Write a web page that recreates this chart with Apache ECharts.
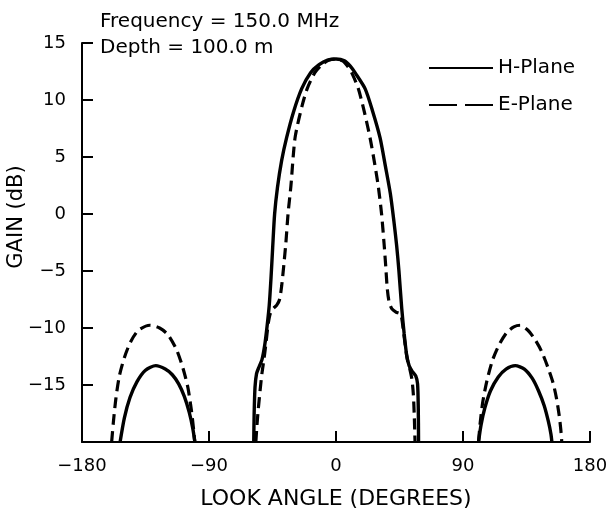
<!DOCTYPE html>
<html>
<head>
<meta charset="utf-8">
<script src="https://cdn.jsdelivr.net/npm/echarts@6/dist/echarts.min.js"></script>
<style>
html,body{margin:0;padding:0;background:#fff;}
#main{width:611px;height:515px;}
</style>
</head>
<body>
<div id="main"></div>
<script>
// H-Plane (solid) lobes: look angle, gain
var hLeftAngle = [-153, -150, -146, -141, -135, -127.7, -121, -116, -111.5, -107.5, -104, -101.5, -100];
var hLeftGain = [-20, -17.9, -16.1, -14.7, -13.7, -13.3, -13.6, -14.1, -14.9, -16, -17.4, -18.8, -20];
var hMainAngle = [-58.3, -58, -57.4, -56.3, -54.5, -52.5, -50.5, -48.8, -47.3, -46, -44.9, -43.5, -41.5, -38.5, -35, -30, -24.3, -18, -12, -6, 0,
	6, 10, 13.5, 20.6, 26, 31.2, 35, 38.5, 41, 43, 44.6, 46.6, 48.3, 50.1, 51.8, 54, 56.5, 57.8, 58.3, 58.5];
var hMainGain = [-20, -17.5, -15.2, -14, -13.4, -12.8, -11.5, -9.8, -8, -5.5, -3, 0, 2.3, 4.7, 6.7, 9, 11, 12.4, 13.1, 13.5, 13.6,
	13.45, 13, 12.4, 11, 9, 6.7, 4.2, 1.8, -0.6, -2.8, -5, -8.3, -10.5, -12.4, -13.3, -13.8, -14.2, -14.9, -17, -20];
var hRightAngle = [101, 102.8, 105.5, 109.5, 115, 120.5, 127, 133.5, 139, 143.5, 147.5, 150.5, 152.3, 153];
var hRightGain = [-20, -18.5, -17, -15.5, -14.3, -13.6, -13.3, -13.6, -14.4, -15.5, -16.8, -18.2, -19.3, -20];

// E-Plane (dashed) lobes
var eLeftAngle = [-159, -157.8, -156, -153.5, -150, -145.5, -140, -132, -125, -119, -113, -108.5, -105, -102.5, -101, -100.1];
var eLeftGain = [-20, -18.3, -16.2, -14.2, -12.6, -11.2, -10.2, -9.76, -10, -10.6, -11.9, -13.5, -15.2, -17.2, -18.8, -20];
var eMainAngle = [-56.8, -56, -55, -53.8, -52.5, -51, -49.6, -48, -46.5, -44.5, -42, -40, -38.5, -37, -35.5, -34, -32, -29, -24, -20.4, -15, -10, -5, 0,
	5, 8, 11.1, 15.8, 20, 24.1, 27.3, 30, 32.3, 34, 35.2, 36.3, 37.6, 39.5, 42.5, 45.9, 48, 50.3, 52.3, 53.8, 54.8, 55.5, 56];
var eMainGain = [-20, -18.5, -17, -15.5, -14, -12.7, -11.3, -9.6, -8.7, -8.3, -8, -7.5, -6.3, -4.5, -2.5, 0, 2.4, 6.7, 9.5, 11, 12.4, 13.1, 13.5, 13.6,
	13.4, 13, 12.4, 11, 9, 6.7, 4.5, 2.4, 0, -2.5, -4.5, -6.5, -7.7, -8.3, -8.6, -8.8, -10.5, -12.6, -13.6, -14.5, -15.8, -17.8, -20];
var eRightAngle = [101, 102.2, 104, 107, 111, 115.5, 121, 126, 130.5, 136, 141, 145.5, 150, 153.8, 156.3, 158.2, 159.3, 160];
var eRightGain = [-20, -18.3, -16.5, -14.6, -12.8, -11.5, -10.4, -9.9, -9.76, -10.2, -11, -12, -13.4, -14.8, -16.2, -17.7, -18.9, -20];

var xTicks = [-180, -90, 0, 90, 180];
var yTicks = [-15, -10, -5, 0, 5, 10, 15];

var FONT = 'DejaVu Sans';

// join lobes, with a gap between them so the line breaks
function lobes(list) {
	var out = [];
	for (var k = 0; k < list.length; k++) {
		if (k > 0) out.push([ (list[k-1][0][list[k-1][0].length-1] + list[k][0][0]) / 2, '-' ]);
		for (var i = 0; i < list[k][0].length; i++) {
			out.push([list[k][0][i], list[k][1][i]]);
		}
	}
	return out;
}
function minus(v) {
	return String(v).replace('-', '\u2212');
}

var chart = echarts.init(document.getElementById('main'));
var option = {
	backgroundColor: '#fff',
	animation: false,
	grid: {
		left: 82,
		right: 21,
		top: 43,
		bottom: 67
	},
	legend: {
		orient: 'vertical',
		left: 423,
		top: 53,
		itemWidth: 64,
		itemHeight: 20,
		itemGap: 17,
		itemStyle: { opacity: 0 },
		textStyle: {
			color: '#000',
			fontFamily: FONT,
			fontSize: 20
		},
		data: [{
			name: 'H-Plane'
		}, {
			name: 'E-Plane',
			lineStyle: { type: [28, 8] }
		}]
	},
	xAxis: {
		type: 'value',
		min: xTicks[0],
		max: xTicks[xTicks.length - 1],
		interval: 90,
		name: 'LOOK ANGLE (DEGREES)',
		nameLocation: 'middle',
		nameGap: 46,
		nameTextStyle: { color: '#000', fontFamily: FONT, fontSize: 22 },
		axisLine: { onZero: false, lineStyle: { color: '#000', width: 2 } },
		axisTick: { inside: true, length: 11, lineStyle: { color: '#000', width: 2 } },
		axisLabel: {
			color: '#000',
			fontFamily: FONT,
			fontSize: 18,
			margin: 15,
			formatter: minus
		},
		splitLine: { show: false }
	},
	yAxis: {
		type: 'value',
		min: -20,
		max: yTicks[yTicks.length - 1],
		interval: 5,
		axisLine: { show: true, onZero: false, lineStyle: { color: '#000', width: 2 } },
		axisTick: { show: true, inside: true, length: 11, lineStyle: { color: '#000', width: 2 } },
		axisLabel: {
			color: '#000',
			fontFamily: FONT,
			fontSize: 18,
			margin: 16,
			showMinLabel: false,
			formatter: minus
		},
		splitLine: { show: false }
	},
	graphic: [{
		type: 'text',
		left: 100,
		top: 12,
		style: { text: 'Frequency = 150.0 MHz', fill: '#000', font: '20px "DejaVu Sans"' }
	}, {
		type: 'text',
		left: 100,
		top: 38,
		style: { text: 'Depth = 100.0 m', fill: '#000', font: '20px "DejaVu Sans"' }
	}, {
		type: 'text',
		x: 17,
		y: 217,
		rotation: Math.PI / 2,
		style: { text: 'GAIN (dB)', fill: '#000', font: '21px "DejaVu Sans"', align: 'center', verticalAlign: 'middle' }
	}],
	series: [{
		name: 'H-Plane',
		type: 'line',
		symbol: 'none',
		smooth: 0.25,
		lineStyle: { color: '#000', width: 3.4 },
		itemStyle: { color: '#000' },
		data: lobes([[hLeftAngle, hLeftGain], [hMainAngle, hMainGain], [hRightAngle, hRightGain]])
	}, {
		name: 'E-Plane',
		type: 'line',
		symbol: 'none',
		smooth: 0.25,
		lineStyle: { color: '#000', width: 3.2, type: [11, 6] },
		itemStyle: { color: '#000' },
		data: lobes([[eLeftAngle, eLeftGain], [eMainAngle, eMainGain], [eRightAngle, eRightGain]])
	}]
};
chart.setOption(option);
</script>
</body>
</html>
